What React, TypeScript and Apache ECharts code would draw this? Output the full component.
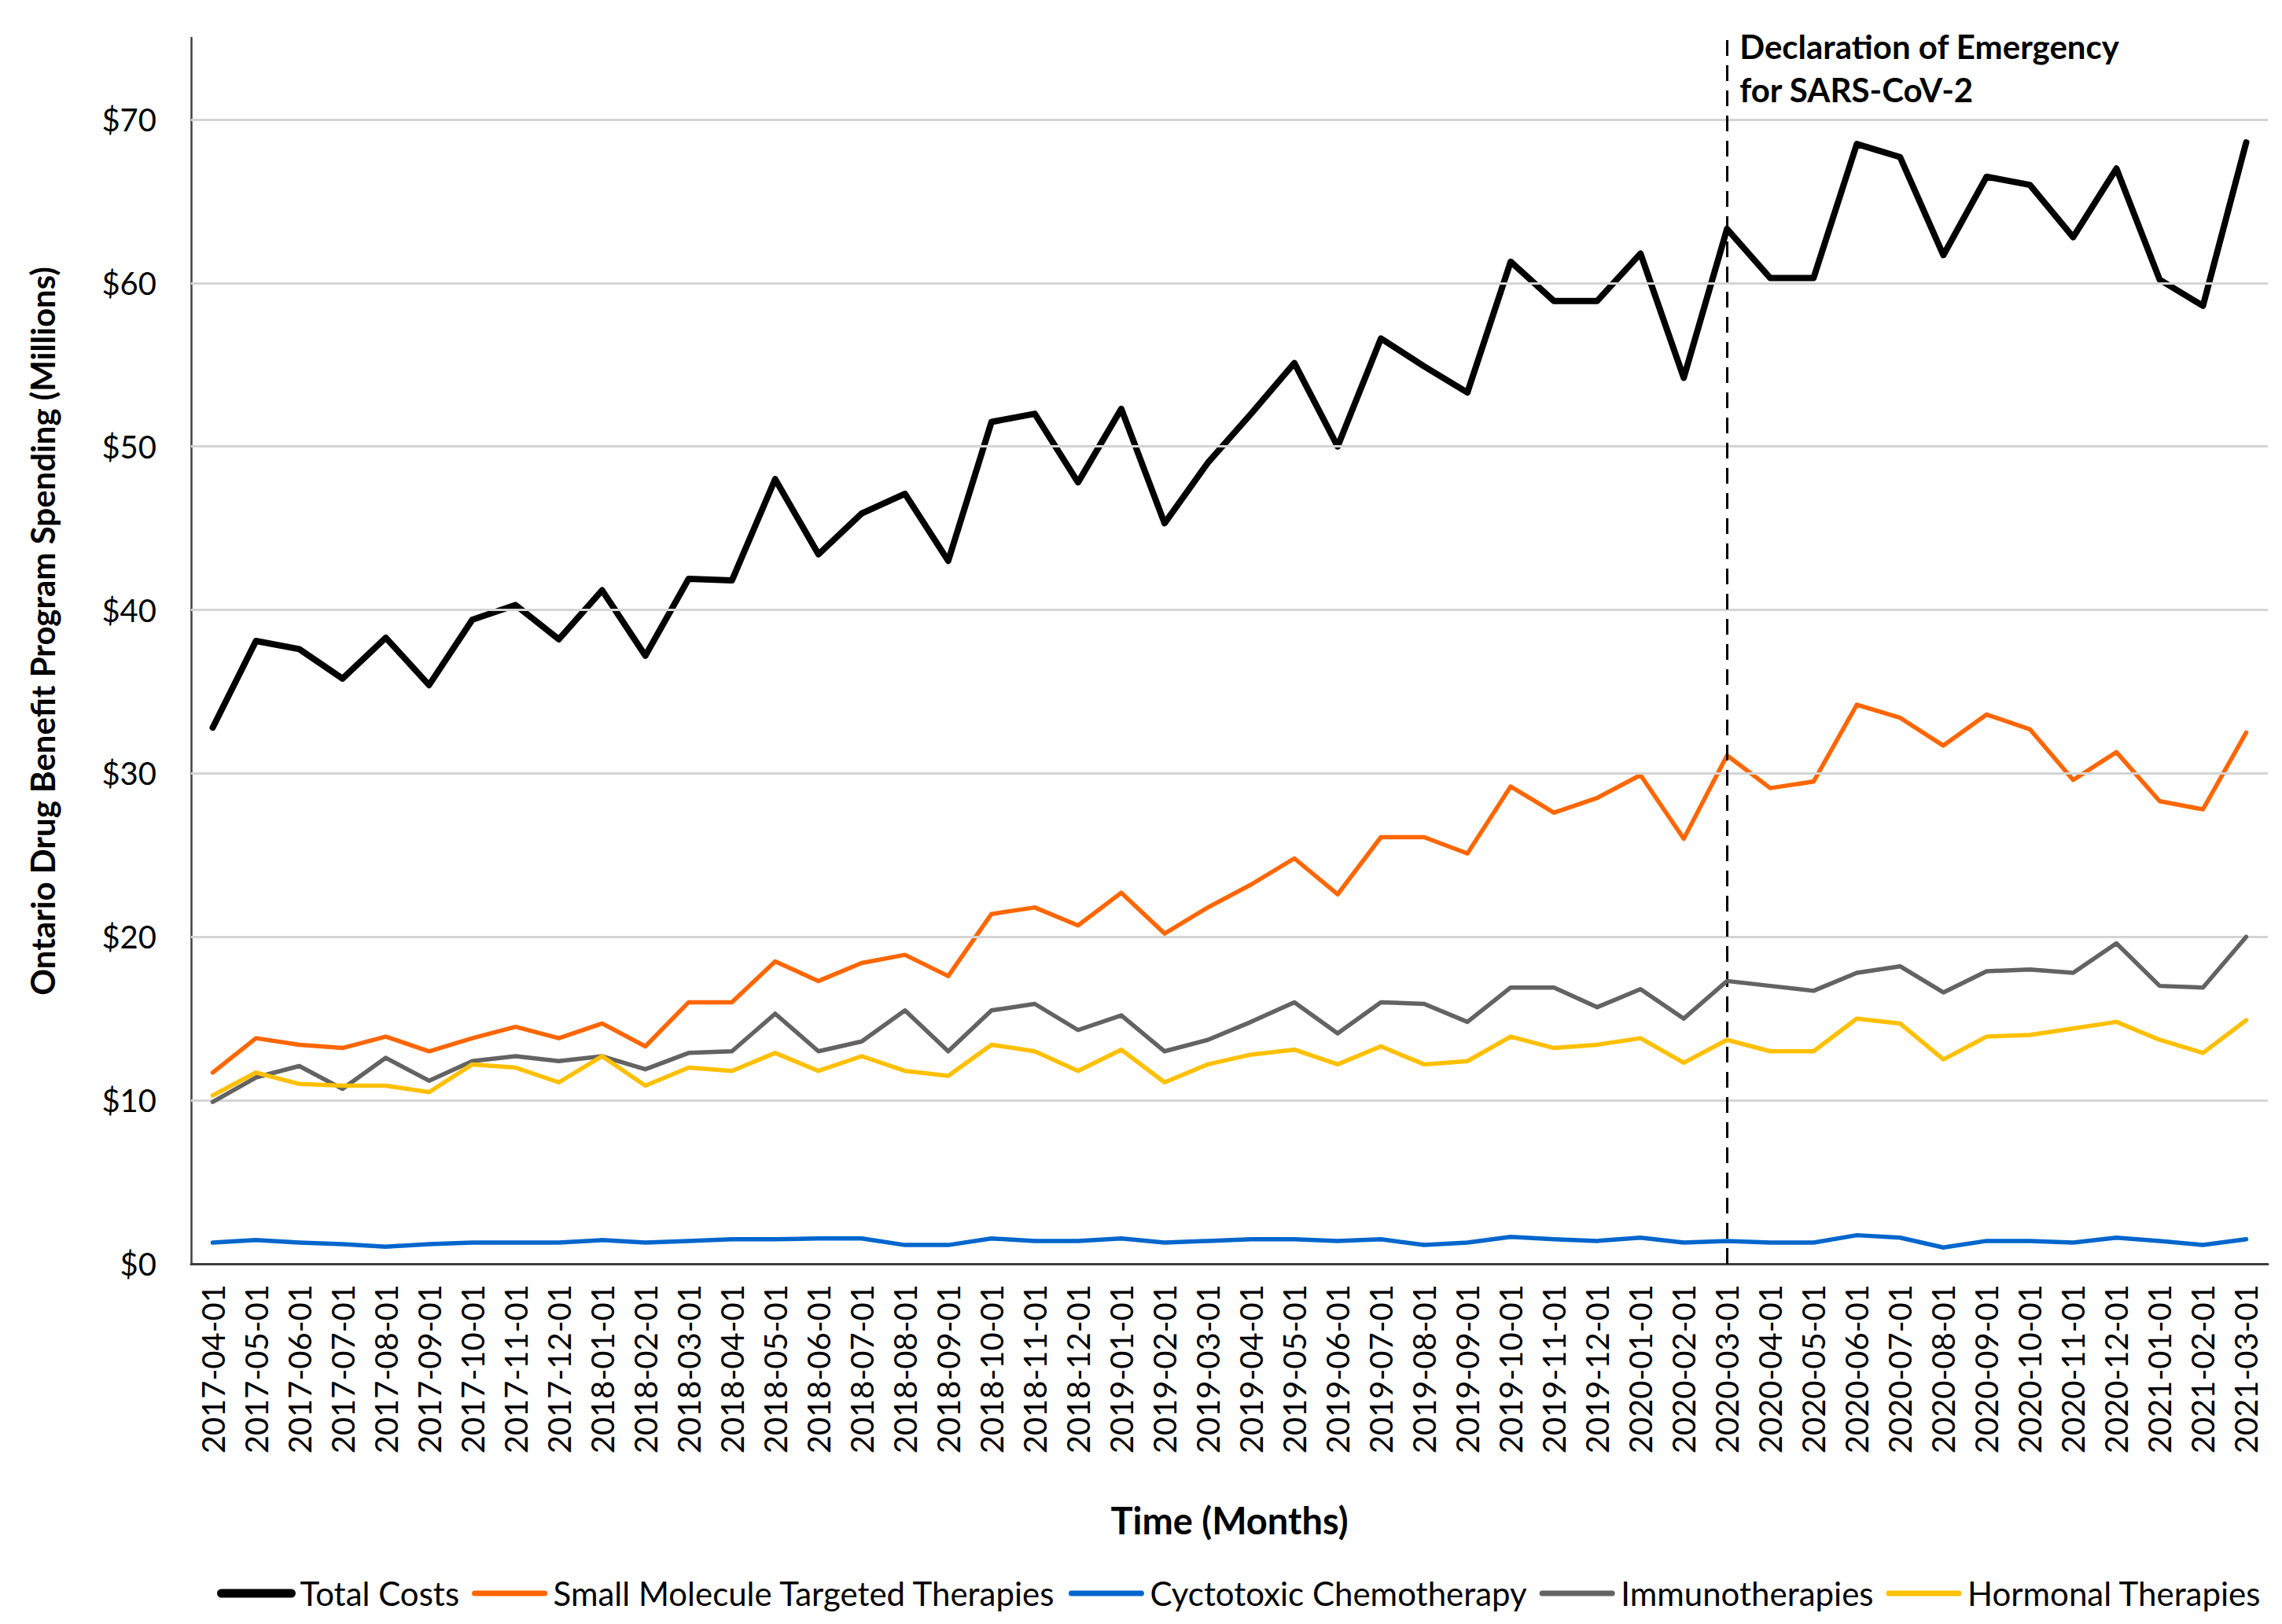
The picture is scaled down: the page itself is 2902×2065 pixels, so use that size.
import React, { useEffect, useRef } from "react";
import * as echarts from "echarts";

const months = [
  "2017-04-01", "2017-05-01", "2017-06-01", "2017-07-01", "2017-08-01", "2017-09-01",
  "2017-10-01", "2017-11-01", "2017-12-01", "2018-01-01", "2018-02-01", "2018-03-01",
  "2018-04-01", "2018-05-01", "2018-06-01", "2018-07-01", "2018-08-01", "2018-09-01",
  "2018-10-01", "2018-11-01", "2018-12-01", "2019-01-01", "2019-02-01", "2019-03-01",
  "2019-04-01", "2019-05-01", "2019-06-01", "2019-07-01", "2019-08-01", "2019-09-01",
  "2019-10-01", "2019-11-01", "2019-12-01", "2020-01-01", "2020-02-01", "2020-03-01",
  "2020-04-01", "2020-05-01", "2020-06-01", "2020-07-01", "2020-08-01", "2020-09-01",
  "2020-10-01", "2020-11-01", "2020-12-01", "2021-01-01", "2021-02-01", "2021-03-01",
];

const totalCosts = [
  32.8, 38.1, 37.6, 35.8, 38.3, 35.4, 39.4, 40.3, 38.2, 41.2,
  37.2, 41.9, 41.8, 48.0, 43.4, 45.9, 47.1, 43.0, 51.5, 52.0,
  47.8, 52.3, 45.3, 49.0, 52.0, 55.1, 50.0, 56.6, 54.9, 53.3,
  61.3, 58.9, 58.9, 61.8, 54.2, 63.3, 60.3, 60.3, 68.5, 67.7,
  61.7, 66.5, 66.0, 62.8, 67.0, 60.2, 58.6, 68.6,
];

const smallMolecule = [
  11.7, 13.8, 13.4, 13.2, 13.9, 13.0, 13.8, 14.5, 13.8, 14.7,
  13.3, 16.0, 16.0, 18.5, 17.3, 18.4, 18.9, 17.6, 21.4, 21.8,
  20.7, 22.7, 20.2, 21.8, 23.2, 24.8, 22.6, 26.1, 26.1, 25.1,
  29.2, 27.6, 28.5, 29.9, 26.0, 31.1, 29.1, 29.5, 34.2, 33.4,
  31.7, 33.6, 32.7, 29.6, 31.3, 28.3, 27.8, 32.5,
];

const cytotoxic = [
  1.3, 1.45, 1.3, 1.2, 1.05, 1.2, 1.3, 1.3, 1.3, 1.45,
  1.3, 1.4, 1.5, 1.5, 1.55, 1.55, 1.15, 1.15, 1.55, 1.4,
  1.4, 1.55, 1.3, 1.4, 1.5, 1.5, 1.4, 1.5, 1.15, 1.3,
  1.65, 1.5, 1.4, 1.6, 1.3, 1.4, 1.3, 1.3, 1.75, 1.6,
  1.0, 1.4, 1.4, 1.3, 1.6, 1.4, 1.15, 1.5,
];

const immunotherapies = [
  9.9, 11.4, 12.1, 10.7, 12.6, 11.2, 12.4, 12.7, 12.4, 12.7,
  11.9, 12.9, 13.0, 15.3, 13.0, 13.6, 15.5, 13.0, 15.5, 15.9,
  14.3, 15.2, 13.0, 13.7, 14.8, 16.0, 14.1, 16.0, 15.9, 14.8,
  16.9, 16.9, 15.7, 16.8, 15.0, 17.3, 17.0, 16.7, 17.8, 18.2,
  16.6, 17.9, 18.0, 17.8, 19.6, 17.0, 16.9, 20.0,
];

const hormonal = [
  10.3, 11.7, 11.0, 10.9, 10.9, 10.5, 12.2, 12.0, 11.1, 12.7,
  10.9, 12.0, 11.8, 12.9, 11.8, 12.7, 11.8, 11.5, 13.4, 13.0,
  11.8, 13.1, 11.1, 12.2, 12.8, 13.1, 12.2, 13.3, 12.2, 12.4,
  13.9, 13.2, 13.4, 13.8, 12.3, 13.7, 13.0, 13.0, 15.0, 14.7,
  12.5, 13.9, 14.0, 14.4, 14.8, 13.7, 12.9, 14.9,
];

const gridValues = [10, 20, 30, 40, 50, 60, 70];
const emergencyMonth = "2020-03-01";
const annotationText = "Declaration of Emergency\nfor SARS-CoV-2";

const FONT = "Lato";

export default function App() {
  const ref = useRef<HTMLDivElement>(null);

  useEffect(() => {
    const chart = echarts.init(ref.current!, null, { renderer: "svg" });

    const lineSeries = (name: string, data: number[], color: string, width: number, z: number) => ({
      name,
      type: "line",
      data,
      symbol: "none",
      z,
      lineStyle: { color, width, join: "round", cap: "round" },
      itemStyle: { color },
      emphasis: { disabled: true },
    });

    const legendItem = (name: string, width: number) => ({
      name,
      lineStyle: { width },
      itemStyle: { opacity: 0 },
    });

    chart.setOption({
      animation: false,
      backgroundColor: "#ffffff",
      textStyle: { fontFamily: FONT },
      grid: { left: 243, right: 18, top: 48, bottom: 458, containLabel: false },
      legend: {
        data: [
          legendItem("Total Costs", 11),
          legendItem("Small Molecule Targeted Therapies", 7),
          legendItem("Cyctotoxic Chemotherapy", 7),
          legendItem("Immunotherapies", 7),
          legendItem("Hormonal Therapies", 7),
        ],
        left: 271,
        top: 2000,
        itemWidth: 89,
        itemHeight: 14,
        itemGap: 16,
        textStyle: { fontFamily: FONT, fontSize: 42, color: "#000", padding: [0, 0, 0, 6] },
      },
      xAxis: {
        type: "category",
        data: months,
        boundaryGap: true,
        axisTick: { show: false },
        axisLine: { lineStyle: { color: "#404040", width: 3 } },
        axisLabel: {
          rotate: 90,
          interval: 0,
          margin: 26,
          fontFamily: FONT,
          fontSize: 40,
          color: "#000",
        },
        name: "Time (Months)",
        nameLocation: "middle",
        nameGap: 302,
        nameTextStyle: { fontFamily: FONT, fontSize: 47, fontWeight: "bold", color: "#000" },
      },
      yAxis: {
        type: "value",
        min: 0,
        max: 75,
        interval: 10,
        splitLine: { show: false },
        axisTick: { show: false },
        axisLine: { show: true, lineStyle: { color: "#404040", width: 2.5 } },
        axisLabel: {
          margin: 44,
          fontFamily: FONT,
          fontSize: 40,
          color: "#000",
          formatter: (v: number) => (v > 70 ? "" : "$" + v),
        },
        name: "Ontario Drug Benefit Program Spending (Millions)",
        nameLocation: "middle",
        nameGap: 168,
        nameTextStyle: {
          fontFamily: FONT,
          fontSize: 42,
          fontWeight: "bold",
          color: "#000",
          padding: [0, 0, 0, 50],
        },
      },
      series: [
        {
          name: "gridlines",
          type: "line",
          data: [],
          z: 1,
          silent: true,
          markLine: {
            silent: true,
            symbol: "none",
            label: { show: false },
            lineStyle: { color: "#d4d4d4", width: 3, type: "solid" },
            emphasis: { disabled: true },
            data: gridValues.map((v) => ({ yAxis: v })),
          },
        },
        lineSeries("Total Costs", totalCosts, "#000000", 8, 3),
        lineSeries("Small Molecule Targeted Therapies", smallMolecule, "#FF6600", 5.5, 4),
        lineSeries("Cyctotoxic Chemotherapy", cytotoxic, "#0066CC", 5.5, 5),
        lineSeries("Immunotherapies", immunotherapies, "#636363", 5.5, 6),
        lineSeries("Hormonal Therapies", hormonal, "#FFC000", 5.5, 7),
        {
          name: "emergency",
          type: "line",
          data: [],
          z: 10,
          silent: true,
          markLine: {
            silent: true,
            symbol: "none",
            label: { show: false },
            lineStyle: { color: "#000000", width: 3, type: [20, 12] },
            emphasis: { disabled: true },
            data: [{ xAxis: emergencyMonth }],
          },
        },
      ],
    });

    const idx = months.indexOf(emergencyMonth);
    const top = chart.convertToPixel({ xAxisIndex: 0, yAxisIndex: 0 }, [idx, 75]) as number[];
    chart.setOption({
      graphic: [
        {
          type: "text",
          x: top[0] + 16,
          y: top[1] - 17,
          z: 20,
          style: {
            text: annotationText,
            fontFamily: FONT,
            fontSize: 42,
            fontWeight: "bold",
            lineHeight: 55,
            fill: "#000",
            verticalAlign: "top",
            align: "left",
          },
        },
      ],
    });

    return () => chart.dispose();
  }, []);

  return (
    <div
      ref={ref}
      style={{ position: "fixed", left: 0, top: 0, width: 2902, height: 2065, background: "#fff" }}
    />
  );
}
